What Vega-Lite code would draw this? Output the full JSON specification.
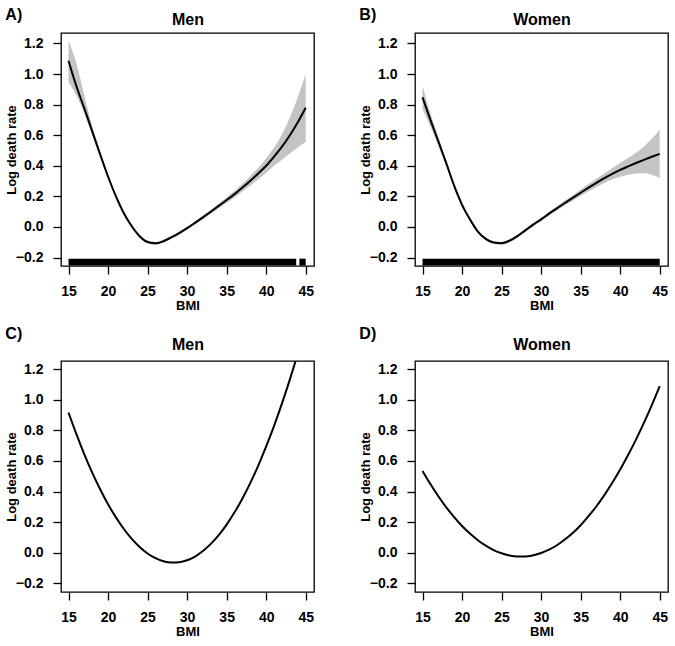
{
  "$schema": "https://vega.github.io/schema/vega-lite/v6.json",
  "background": "white",
  "padding": {"left": 4, "top": 5, "right": 0, "bottom": 0},
  "datasets": {
    "menSpline": [
      {"bmi": 15, "fit": 1.087, "lo": 0.946, "hi": 1.218},
      {"bmi": 16, "fit": 0.92, "lo": 0.86, "hi": 1.07},
      {"bmi": 17, "fit": 0.775, "lo": 0.74, "hi": 0.86},
      {"bmi": 18, "fit": 0.625, "lo": 0.6, "hi": 0.66},
      {"bmi": 19, "fit": 0.475, "lo": 0.455, "hi": 0.495},
      {"bmi": 20, "fit": 0.33, "lo": 0.315, "hi": 0.345},
      {"bmi": 21, "fit": 0.2, "lo": 0.188, "hi": 0.212},
      {"bmi": 22, "fit": 0.09, "lo": 0.079, "hi": 0.101},
      {"bmi": 23, "fit": 0.005, "lo": -0.005, "hi": 0.015},
      {"bmi": 24, "fit": -0.06, "lo": -0.07, "hi": -0.05},
      {"bmi": 25, "fit": -0.098, "lo": -0.107, "hi": -0.089},
      {"bmi": 26, "fit": -0.107, "lo": -0.116, "hi": -0.098},
      {"bmi": 27, "fit": -0.093, "lo": -0.102, "hi": -0.084},
      {"bmi": 28, "fit": -0.068, "lo": -0.077, "hi": -0.059},
      {"bmi": 29, "fit": -0.04, "lo": -0.05, "hi": -0.03},
      {"bmi": 30, "fit": -0.008, "lo": -0.018, "hi": 0.002},
      {"bmi": 31, "fit": 0.027, "lo": 0.016, "hi": 0.038},
      {"bmi": 32, "fit": 0.063, "lo": 0.05, "hi": 0.076},
      {"bmi": 33, "fit": 0.1, "lo": 0.086, "hi": 0.114},
      {"bmi": 34, "fit": 0.138, "lo": 0.122, "hi": 0.154},
      {"bmi": 35, "fit": 0.176, "lo": 0.157, "hi": 0.195},
      {"bmi": 36, "fit": 0.215, "lo": 0.193, "hi": 0.237},
      {"bmi": 37, "fit": 0.258, "lo": 0.232, "hi": 0.284},
      {"bmi": 38, "fit": 0.303, "lo": 0.272, "hi": 0.334},
      {"bmi": 39, "fit": 0.35, "lo": 0.312, "hi": 0.388},
      {"bmi": 40, "fit": 0.4, "lo": 0.355, "hi": 0.45},
      {"bmi": 41, "fit": 0.46, "lo": 0.4, "hi": 0.52},
      {"bmi": 42, "fit": 0.525, "lo": 0.44, "hi": 0.605},
      {"bmi": 43, "fit": 0.6, "lo": 0.48, "hi": 0.715},
      {"bmi": 44, "fit": 0.685, "lo": 0.52, "hi": 0.85},
      {"bmi": 45, "fit": 0.78, "lo": 0.555, "hi": 1.0}
    ],
    "womenSpline": [
      {"bmi": 15, "fit": 0.848, "lo": 0.772, "hi": 0.924},
      {"bmi": 16, "fit": 0.7, "lo": 0.655, "hi": 0.745},
      {"bmi": 17, "fit": 0.56, "lo": 0.53, "hi": 0.59},
      {"bmi": 18, "fit": 0.418, "lo": 0.4, "hi": 0.436},
      {"bmi": 19, "fit": 0.27, "lo": 0.256, "hi": 0.284},
      {"bmi": 20, "fit": 0.145, "lo": 0.133, "hi": 0.157},
      {"bmi": 21, "fit": 0.05, "lo": 0.04, "hi": 0.06},
      {"bmi": 22, "fit": -0.03, "lo": -0.04, "hi": -0.02},
      {"bmi": 23, "fit": -0.078, "lo": -0.088, "hi": -0.068},
      {"bmi": 24, "fit": -0.102, "lo": -0.112, "hi": -0.092},
      {"bmi": 25, "fit": -0.106, "lo": -0.116, "hi": -0.096},
      {"bmi": 26, "fit": -0.09, "lo": -0.1, "hi": -0.08},
      {"bmi": 27, "fit": -0.06, "lo": -0.07, "hi": -0.05},
      {"bmi": 28, "fit": -0.022, "lo": -0.032, "hi": -0.012},
      {"bmi": 29, "fit": 0.015, "lo": 0.004, "hi": 0.026},
      {"bmi": 30, "fit": 0.05, "lo": 0.038, "hi": 0.062},
      {"bmi": 31, "fit": 0.087, "lo": 0.074, "hi": 0.1},
      {"bmi": 32, "fit": 0.122, "lo": 0.108, "hi": 0.136},
      {"bmi": 33, "fit": 0.157, "lo": 0.141, "hi": 0.173},
      {"bmi": 34, "fit": 0.19, "lo": 0.172, "hi": 0.208},
      {"bmi": 35, "fit": 0.224, "lo": 0.203, "hi": 0.245},
      {"bmi": 36, "fit": 0.257, "lo": 0.233, "hi": 0.281},
      {"bmi": 37, "fit": 0.289, "lo": 0.262, "hi": 0.316},
      {"bmi": 38, "fit": 0.319, "lo": 0.288, "hi": 0.35},
      {"bmi": 39, "fit": 0.347, "lo": 0.31, "hi": 0.384},
      {"bmi": 40, "fit": 0.373, "lo": 0.328, "hi": 0.418},
      {"bmi": 41, "fit": 0.396, "lo": 0.341, "hi": 0.451},
      {"bmi": 42, "fit": 0.418, "lo": 0.35, "hi": 0.486},
      {"bmi": 43, "fit": 0.439, "lo": 0.352, "hi": 0.526},
      {"bmi": 44, "fit": 0.459, "lo": 0.342, "hi": 0.576},
      {"bmi": 45, "fit": 0.478, "lo": 0.32, "hi": 0.636}
    ],
    "menRug": [
      {"from": 15, "to": 43.8},
      {"from": 44.2, "to": 45}
    ],
    "womenRug": [
      {"from": 15, "to": 45}
    ],
    "menQuad": [
      {"bmi": 15, "fit": 0.917}, {"bmi": 16, "fit": 0.775}, {"bmi": 17, "fit": 0.644},
      {"bmi": 18, "fit": 0.524}, {"bmi": 19, "fit": 0.415}, {"bmi": 20, "fit": 0.317},
      {"bmi": 21, "fit": 0.231}, {"bmi": 22, "fit": 0.155}, {"bmi": 23, "fit": 0.091},
      {"bmi": 24, "fit": 0.038}, {"bmi": 25, "fit": -0.005}, {"bmi": 26, "fit": -0.036},
      {"bmi": 27, "fit": -0.056}, {"bmi": 28, "fit": -0.0645}, {"bmi": 29, "fit": -0.062},
      {"bmi": 30, "fit": -0.049}, {"bmi": 31, "fit": -0.025}, {"bmi": 32, "fit": 0.011},
      {"bmi": 33, "fit": 0.058}, {"bmi": 34, "fit": 0.115}, {"bmi": 35, "fit": 0.184},
      {"bmi": 36, "fit": 0.264}, {"bmi": 37, "fit": 0.355}, {"bmi": 38, "fit": 0.457},
      {"bmi": 39, "fit": 0.57}, {"bmi": 40, "fit": 0.695}, {"bmi": 41, "fit": 0.83},
      {"bmi": 42, "fit": 0.977}, {"bmi": 43, "fit": 1.134}, {"bmi": 44, "fit": 1.303},
      {"bmi": 45, "fit": 1.483}
    ],
    "womenQuad": [
      {"bmi": 15, "fit": 0.535}, {"bmi": 16, "fit": 0.449}, {"bmi": 17, "fit": 0.369},
      {"bmi": 18, "fit": 0.297}, {"bmi": 19, "fit": 0.233}, {"bmi": 20, "fit": 0.175},
      {"bmi": 21, "fit": 0.125}, {"bmi": 22, "fit": 0.082}, {"bmi": 23, "fit": 0.046},
      {"bmi": 24, "fit": 0.017}, {"bmi": 25, "fit": -0.004}, {"bmi": 26, "fit": -0.018},
      {"bmi": 27, "fit": -0.025}, {"bmi": 28, "fit": -0.025}, {"bmi": 29, "fit": -0.017},
      {"bmi": 30, "fit": -0.002}, {"bmi": 31, "fit": 0.02}, {"bmi": 32, "fit": 0.049},
      {"bmi": 33, "fit": 0.086}, {"bmi": 34, "fit": 0.129}, {"bmi": 35, "fit": 0.18},
      {"bmi": 36, "fit": 0.239}, {"bmi": 37, "fit": 0.304}, {"bmi": 38, "fit": 0.377},
      {"bmi": 39, "fit": 0.457}, {"bmi": 40, "fit": 0.544}, {"bmi": 41, "fit": 0.639},
      {"bmi": 42, "fit": 0.74}, {"bmi": 43, "fit": 0.849}, {"bmi": 44, "fit": 0.966},
      {"bmi": 45, "fit": 1.089}
    ]
  },
  "vconcat": [
    {
      "hconcat": [
        {
          "width": 253, "height": 233,
          "title": {"text": "A)", "anchor": "start", "frame": "bounds", "dy": 15},
          "resolve": {"axis": {"x": "independent", "y": "independent"}},
          "layer": [
            {
              "data": {"name": "menSpline"},
              "mark": {"type": "area", "color": "#c4c4c4", "interpolate": "monotone"},
              "encoding": {
                "x": {"field": "bmi", "type": "quantitative", "scale": {"domain": [14.05, 46.05], "nice": false, "zero": false}, "axis": {"title": "BMI", "values": [15, 20, 25, 30, 35, 40, 45]}},
                "y": {"field": "lo", "type": "quantitative", "scale": {"domain": [-0.255, 1.268], "nice": false, "zero": false}, "axis": {"title": "Log death rate", "values": [-0.2, 0, 0.2, 0.4, 0.6, 0.8, 1.0, 1.2], "format": ".1f"}},
                "y2": {"field": "hi"}
              }
            },
            {
              "data": {"name": "menSpline"},
              "mark": {"type": "line", "color": "black", "strokeWidth": 2, "interpolate": "monotone"},
              "encoding": {
                "x": {"field": "bmi", "type": "quantitative", "axis": null},
                "y": {"field": "fit", "type": "quantitative", "axis": null}
              }
            },
            {
              "data": {"name": "menRug"},
              "mark": {"type": "rect", "color": "black"},
              "encoding": {
                "x": {"field": "from", "type": "quantitative", "axis": {"orient": "top", "title": "Men", "ticks": false, "labels": false, "domain": false, "titleFontSize": 16, "titlePadding": 5.5}},
                "x2": {"field": "to"},
                "y": {"datum": -0.207, "type": "quantitative", "axis": null},
                "y2": {"datum": -0.252}
              }
            }
          ]
        },
        {
          "width": 253, "height": 233,
          "title": {"text": "B)", "anchor": "start", "frame": "bounds", "dy": 15},
          "resolve": {"axis": {"x": "independent", "y": "independent"}},
          "layer": [
            {
              "data": {"name": "womenSpline"},
              "mark": {"type": "area", "color": "#c4c4c4", "interpolate": "monotone"},
              "encoding": {
                "x": {"field": "bmi", "type": "quantitative", "scale": {"domain": [14.05, 46.05], "nice": false, "zero": false}, "axis": {"title": "BMI", "values": [15, 20, 25, 30, 35, 40, 45]}},
                "y": {"field": "lo", "type": "quantitative", "scale": {"domain": [-0.255, 1.268], "nice": false, "zero": false}, "axis": {"title": "Log death rate", "values": [-0.2, 0, 0.2, 0.4, 0.6, 0.8, 1.0, 1.2], "format": ".1f"}},
                "y2": {"field": "hi"}
              }
            },
            {
              "data": {"name": "womenSpline"},
              "mark": {"type": "line", "color": "black", "strokeWidth": 2, "interpolate": "monotone"},
              "encoding": {
                "x": {"field": "bmi", "type": "quantitative", "axis": null},
                "y": {"field": "fit", "type": "quantitative", "axis": null}
              }
            },
            {
              "data": {"name": "womenRug"},
              "mark": {"type": "rect", "color": "black"},
              "encoding": {
                "x": {"field": "from", "type": "quantitative", "axis": {"orient": "top", "title": "Women", "ticks": false, "labels": false, "domain": false, "titleFontSize": 16, "titlePadding": 5.5}},
                "x2": {"field": "to"},
                "y": {"datum": -0.207, "type": "quantitative", "axis": null},
                "y2": {"datum": -0.252}
              }
            }
          ]
        }
      ],
      "spacing": 43
    },
    {
      "hconcat": [
        {
          "width": 253, "height": 231,
          "title": {"text": "C)", "anchor": "start", "frame": "bounds", "dy": 10},
          "resolve": {"axis": {"x": "independent"}},
          "layer": [
            {
              "data": {"name": "menQuad"},
              "mark": {"type": "line", "color": "black", "strokeWidth": 2, "interpolate": "monotone", "clip": true},
              "encoding": {
                "x": {"field": "bmi", "type": "quantitative", "scale": {"domain": [14.05, 46.05], "nice": false, "zero": false}, "axis": {"title": "BMI", "values": [15, 20, 25, 30, 35, 40, 45]}},
                "y": {"field": "fit", "type": "quantitative", "scale": {"domain": [-0.257, 1.254], "nice": false, "zero": false}, "axis": {"title": "Log death rate", "values": [-0.2, 0, 0.2, 0.4, 0.6, 0.8, 1.0, 1.2], "format": ".1f"}}
              }
            },
            {
              "data": {"values": []},
              "mark": {"type": "point", "opacity": 0},
              "encoding": {
                "x": {"field": "bmi", "type": "quantitative", "axis": {"orient": "top", "title": "Men", "ticks": false, "labels": false, "domain": false, "titleFontSize": 16, "titlePadding": 9}}
              }
            }
          ]
        },
        {
          "width": 253, "height": 231,
          "title": {"text": "D)", "anchor": "start", "frame": "bounds", "dy": 10},
          "resolve": {"axis": {"x": "independent"}},
          "layer": [
            {
              "data": {"name": "womenQuad"},
              "mark": {"type": "line", "color": "black", "strokeWidth": 2, "interpolate": "monotone", "clip": true},
              "encoding": {
                "x": {"field": "bmi", "type": "quantitative", "scale": {"domain": [14.05, 46.05], "nice": false, "zero": false}, "axis": {"title": "BMI", "values": [15, 20, 25, 30, 35, 40, 45]}},
                "y": {"field": "fit", "type": "quantitative", "scale": {"domain": [-0.257, 1.254], "nice": false, "zero": false}, "axis": {"title": "Log death rate", "values": [-0.2, 0, 0.2, 0.4, 0.6, 0.8, 1.0, 1.2], "format": ".1f"}}
              }
            },
            {
              "data": {"values": []},
              "mark": {"type": "point", "opacity": 0},
              "encoding": {
                "x": {"field": "bmi", "type": "quantitative", "axis": {"orient": "top", "title": "Women", "ticks": false, "labels": false, "domain": false, "titleFontSize": 16, "titlePadding": 9}}
              }
            }
          ]
        }
      ],
      "spacing": 43
    }
  ],
  "spacing": 12,
  "config": {
    "font": "Liberation Sans",
    "view": {"stroke": "black", "strokeWidth": 1.3},
    "title": {"fontSize": 16, "fontWeight": "bold", "color": "black", "offset": 0},
    "axis": {
      "grid": false,
      "domain": false,
      "tickColor": "black",
      "tickWidth": 1.3,
      "tickSize": 8,
      "labelFontSize": 14,
      "labelFontWeight": "bold",
      "labelColor": "black",
      "labelPadding": 10,
      "titleFontSize": 13,
      "titleFontWeight": "bold",
      "titleColor": "black",
      "titlePadding": 1
    },
    "axisY": {"titlePadding": -3}
  }
}
